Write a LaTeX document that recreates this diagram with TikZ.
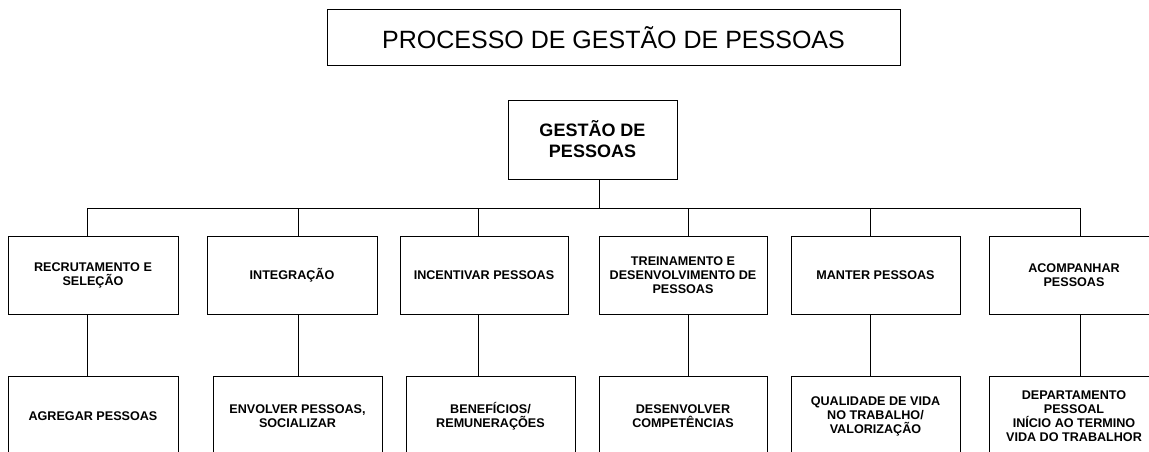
\documentclass[tikz,border=0pt]{standalone}
\usepackage{fontspec}
\setmainfont{Liberation Sans}
\begin{document}
\begin{tikzpicture}[x=1pt,y=-1pt,
  box/.style={draw,line width=1pt,rectangle,inner sep=0pt,align=center,font=\bfseries\fontsize{12.6}{14}\selectfont},
  rowa/.style={box,minimum height=78pt},
  rowb/.style={box,minimum height=80pt},
  conn/.style={line width=1pt}]
\useasboundingbox (0,0) rectangle (1149,452);
\clip (0,0) rectangle (1149,452);
\node[draw,line width=1pt,minimum width=573pt,minimum height=56pt,inner sep=0pt,font=\fontsize{25}{29}\selectfont] (title) at (613.5,38) {PROCESSO DE GESTÃO DE PESSOAS};
\node[box,minimum width=169pt,minimum height=79pt,font=\bfseries\fontsize{18}{21}\selectfont] (root) at (592.5,139.5) {GESTÃO DE\\PESSOAS};
% row 1
\node[rowa,minimum width=170pt] (a1) at (93,275) {RECRUTAMENTO E\\SELEÇÃO};
\node[rowa,minimum width=170pt] (a2) at (292,275) {INTEGRAÇÃO};
\node[rowa,minimum width=168pt] (a3) at (484,275) {INCENTIVAR PESSOAS};
\node[rowa,minimum width=168pt] (a4) at (683,275) {TREINAMENTO E\\DESENVOLVIMENTO DE\\PESSOAS};
\node[rowa,minimum width=169pt] (a5) at (875.5,275) {MANTER PESSOAS};
\node[rowa,minimum width=170pt] (a6) at (1074,275) {ACOMPANHAR\\PESSOAS};
% row 2
\node[rowb,minimum width=170pt] (b1) at (93,416) {AGREGAR PESSOAS};
\node[rowb,minimum width=169pt] (b2) at (297.5,416) {ENVOLVER PESSOAS,\\SOCIALIZAR};
\node[rowb,minimum width=169pt] (b3) at (490.5,416) {BENEFÍCIOS/\\REMUNERAÇÕES};
\node[rowb,minimum width=168pt] (b4) at (683,416) {DESENVOLVER\\COMPETÊNCIAS};
\node[rowb,minimum width=169pt] (b5) at (875.5,416) {QUALIDADE DE VIDA\\NO TRABALHO/\\VALORIZAÇÃO};
\node[rowb,minimum width=170pt] (b6) at (1074,416) {DEPARTAMENTO\\PESSOAL\\INÍCIO AO TERMINO\\VIDA DO TRABALHOR};
% connector columns
\coordinate (r0) at (599,208);
\coordinate (d1) at (87,208);
\coordinate (d2) at (298,208);
\coordinate (d3) at (478,208);
\coordinate (d4) at (688,208);
\coordinate (d5) at (870,208);
\coordinate (d6) at (1080,208);
\draw[conn] (root.south -| r0) -- (r0);
\draw[conn] (d1) -- (d6);
\foreach \i in {1,...,6}{
  \draw[conn] (d\i) -- (a\i.north -| d\i);
  \draw[conn] (a\i.south -| d\i) -- (b\i.north -| d\i);
}
\end{tikzpicture}
\end{document}
